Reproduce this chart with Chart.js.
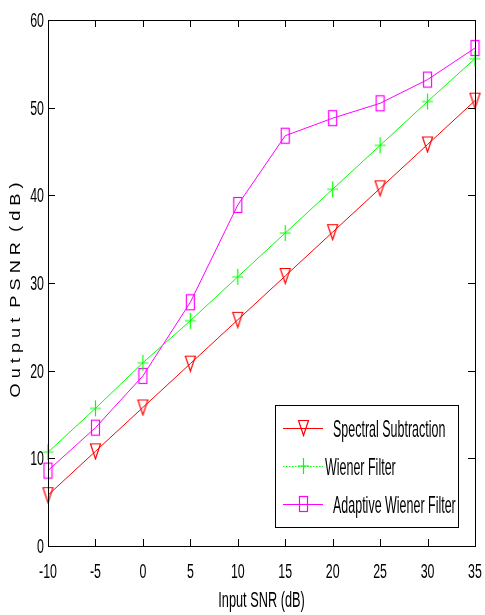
<!DOCTYPE html>
<html><head><meta charset="utf-8">
<script src="https://cdn.jsdelivr.net/npm/chart.js@4/dist/chart.umd.min.js"></script>
<style>html,body{margin:0;padding:0;background:#fff}#wrap{width:485px;height:615px}</style>
</head><body><div id="wrap"><canvas id="c" width="485" height="615"></canvas></div>
<script>
const inputSNR = [-10, -5, 0, 5, 10, 15, 20, 25, 30, 35];
const spectralSubtraction = [5.8, 10.8, 15.8, 20.8, 25.8, 30.8, 35.8, 40.8, 45.8, 50.8];
const wienerFilter = [10.7, 15.7, 20.9, 25.7, 30.7, 35.7, 40.7, 45.7, 50.7, 55.6];
const adaptiveWiener = [8.6, 13.5, 19.4, 27.8, 38.9, 46.8, 48.8, 50.5, 53.2, 56.8];
const xTicks = [-10, -5, 0, 5, 10, 15, 20, 25, 30, 35];
const yTicks = [0, 10, 20, 30, 40, 50, 60];
const seriesLabels = ['Spectral Subtraction', 'Wiener Filter', 'Adaptive Wiener Filter'];
const xTitle = 'Input SNR (dB)';
const yTitle = 'O u t p u t  P S N R  ( d B )';

const FONT = '"Liberation Sans", Arial, sans-serif';

function mk(w, h, draw) {
  const c = document.createElement('canvas'); c.width = w; c.height = h;
  const g = c.getContext('2d'); draw(g, w, h); return c;
}
const triImg = mk(13, 18, (g) => { g.strokeStyle = '#ff0000'; g.lineWidth = 1.2; g.beginPath(); g.moveTo(1.5, 1.5); g.lineTo(11.5, 1.5); g.lineTo(6.5, 16.5); g.closePath(); g.stroke(); });
const plusImg = mk(13, 18, (g) => { g.strokeStyle = '#00ff00'; g.lineWidth = 1.2; g.beginPath(); g.moveTo(6.5, 1); g.lineTo(6.5, 17); g.moveTo(1, 9); g.lineTo(12, 9); g.stroke(); });
const sqImg = mk(11, 18, (g) => { g.strokeStyle = '#ff00ff'; g.lineWidth = 1.2; g.strokeRect(1.5, 1.5, 8, 15); });

const pts = (arr) => inputSNR.map((x, i) => ({ x, y: arr[i] }));

// draw horizontally condensed text
function ctext(ctx, str, x, y, size, sx, align, base) {
  ctx.save();
  ctx.translate(x, y);
  ctx.scale(sx, 1);
  ctx.font = size + 'px ' + FONT;
  ctx.textAlign = align; ctx.textBaseline = base || 'alphabetic';
  ctx.fillStyle = '#000';
  ctx.fillText(str, 0, 0);
  ctx.restore();
}

const frame = {
  id: 'frame',
  afterDraw(chart) {
    const { ctx, chartArea: a, scales: { x, y } } = chart;
    ctx.save();
    ctx.strokeStyle = '#000'; ctx.lineWidth = 1;
    ctx.strokeRect(a.left + 0.5, a.top + 0.5, a.right - a.left, a.bottom - a.top);
    const tl = 7;
    ctx.beginPath();
    xTicks.forEach(v => { const px = Math.round(x.getPixelForValue(v)) + 0.5;
      ctx.moveTo(px, a.bottom); ctx.lineTo(px, a.bottom - tl);
      ctx.moveTo(px, a.top); ctx.lineTo(px, a.top + tl); });
    yTicks.forEach(v => { const py = Math.round(y.getPixelForValue(v)) + 0.5;
      ctx.moveTo(a.left, py); ctx.lineTo(a.left + tl, py);
      ctx.moveTo(a.right, py); ctx.lineTo(a.right - tl, py); });
    ctx.stroke();
    // tick labels
    xTicks.forEach(v => ctext(ctx, String(v), x.getPixelForValue(v), a.bottom + 32, 20, 0.62, 'center'));
    yTicks.forEach(v => ctext(ctx, String(v), a.left - 4, y.getPixelForValue(v) + 7, 20, 0.62, 'right'));
    // axis titles
    ctext(ctx, xTitle, (a.left + a.right) / 2 - 0, 607, 22, 0.58, 'center');
    ctx.save();
    ctx.translate(20, 290);
    ctx.rotate(-Math.PI / 2);
    ctx.font = '14px ' + FONT;
    const w = ctx.measureText(yTitle).width;
    ctx.scale(215 / w, 1);
    ctx.fillStyle = '#000'; ctx.textAlign = 'center'; ctx.textBaseline = 'alphabetic';
    ctx.fillText(yTitle, 0, 0);
    ctx.restore();
    // legend
    const L = 275, T = 405, R = 458, B = 527;
    ctx.fillStyle = '#fff'; ctx.fillRect(L, T, R - L, B - T);
    ctx.strokeStyle = '#000';
    ctx.strokeRect(L + 0.5, T + 0.5, R - L, B - T);
    const rows = [
      { y: 428, c: '#ff0000', dash: [], img: triImg, tx: 333 },
      { y: 466, c: '#00ff00', dash: [1.5, 1.5], img: plusImg, tx: 325 },
      { y: 504, c: '#ff00ff', dash: [], img: sqImg, tx: 333 }
    ];
    rows.forEach((r, i) => {
      ctx.strokeStyle = r.c; ctx.setLineDash(r.dash); ctx.lineWidth = 1;
      ctx.beginPath(); ctx.moveTo(283, r.y + 0.5); ctx.lineTo(323, r.y + 0.5); ctx.stroke();
      ctx.setLineDash([]);
      ctx.drawImage(r.img, 303 - Math.floor(r.img.width / 2), r.y - Math.floor(r.img.height / 2));
      ctext(ctx, seriesLabels[i], r.tx, r.y + 9, 24, 0.52, 'left');
    });
    ctx.restore();
  }
};

new Chart(document.getElementById('c'), {
  type: 'line',
  data: {
    datasets: [
      { label: seriesLabels[0], data: pts(spectralSubtraction), borderColor: '#ff0000', borderWidth: 1, pointStyle: triImg, pointRadius: 6, tension: 0, clip: false },
      { label: seriesLabels[1], data: pts(wienerFilter), borderColor: '#00ff00', borderWidth: 1, pointStyle: plusImg, pointRadius: 6, tension: 0, clip: false },
      { label: seriesLabels[2], data: pts(adaptiveWiener), borderColor: '#ff00ff', borderWidth: 1, pointStyle: sqImg, pointRadius: 6, tension: 0, clip: false }
    ]
  },
  options: {
    responsive: false, animation: false, devicePixelRatio: 1,
    layout: { padding: { top: 20, right: 10, left: 0, bottom: 0 } },
    plugins: { legend: { display: false }, tooltip: { enabled: false } },
    scales: {
      x: {
        type: 'linear', min: -10, max: 35,
        afterBuildTicks: (s) => { s.ticks = xTicks.map(v => ({ value: v })); },
        afterFit: (s) => { s.height = 69; },
        grid: { display: false, drawTicks: false }, border: { display: false },
        ticks: { display: false }
      },
      y: {
        type: 'linear', min: 0, max: 60,
        afterBuildTicks: (s) => { s.ticks = yTicks.map(v => ({ value: v })); },
        afterFit: (s) => { s.width = 48; },
        grid: { display: false, drawTicks: false }, border: { display: false },
        ticks: { display: false }
      }
    }
  },
  plugins: [frame]
});
</script></body></html>
